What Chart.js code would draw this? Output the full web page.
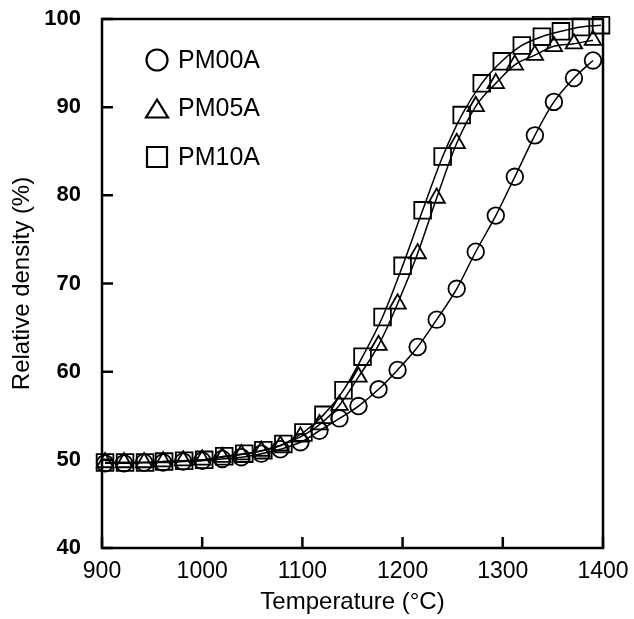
<!DOCTYPE html>
<html>
<head>
<meta charset="utf-8">
<script src="https://cdn.jsdelivr.net/npm/chart.js@4"></script>
<style>
  html, body { margin: 0; padding: 0; background: #fff; }
  #wrap { width: 634px; height: 619px; position: relative; }
</style>
</head>
<body>
<div id="wrap"><canvas id="myChart" width="634" height="619"></canvas></div>
<script>
// Temperatures (°C) of the measured points
let tempA = [903, 922, 942, 961, 981, 1000, 1020, 1039, 1059, 1078, 1098, 1117, 1137,
             1156, 1176, 1195, 1215, 1234, 1254, 1273, 1293, 1312, 1332, 1351, 1371, 1390];
let tempB = [903, 923, 943, 962, 982, 1002, 1022, 1042, 1061, 1081, 1101, 1121, 1141,
             1160, 1180, 1200, 1220, 1240, 1259, 1279, 1299, 1319, 1339, 1358, 1378, 1398];

// Relative density (%)
let pm00a = [49.6, 49.6, 49.7, 49.7, 49.8, 49.9, 50.1, 50.3, 50.7, 51.2, 52.0, 53.3, 54.7,
             56.1, 58.0, 60.2, 62.8, 65.9, 69.4, 73.6, 77.7, 82.1, 86.8, 90.6, 93.3, 95.3];
let pm05a = [49.7, 49.7, 49.7, 49.8, 49.9, 50.0, 50.3, 50.6, 51.0, 51.6, 52.6, 54.0, 56.2,
             59.4, 63.0, 67.7, 73.4, 79.7, 85.9, 90.1, 92.7, 94.8, 95.9, 96.9, 97.2, 97.6];
let pm10a = [49.7, 49.7, 49.7, 49.8, 49.9, 50.0, 50.4, 50.7, 51.1, 51.8, 53.1, 55.1, 57.9,
             61.7, 66.2, 72.0, 78.3, 84.4, 89.1, 92.7, 95.2, 97.0, 98.0, 98.6, 99.1, 99.3];

let xTicks = [900, 1000, 1100, 1200, 1300, 1400];
let yTicks = [40, 50, 60, 70, 80, 90, 100];

const FONT = "'Liberation Sans', Arial, sans-serif";

function pts(xs, ys) {
    return xs.map((x, i) => ({ x: x, y: ys[i] }));
}

function series(label, xs, ys, style, radius) {
    return {
        label: label,
        data: pts(xs, ys),
        showLine: true,
        borderColor: '#000',
        borderWidth: 1.5,
        cubicInterpolationMode: 'monotone',
        pointStyle: style,
        pointRadius: radius,
        pointBorderWidth: 1.8,
        pointBorderColor: '#000',
        pointBackgroundColor: 'rgba(0,0,0,0)',
        clip: false
    };
}

// Frame with inward ticks, drawn under the markers
const framePlugin = {
    id: 'frame',
    beforeDatasetsDraw(chart) {
        const { ctx, chartArea: a, scales } = chart;
        ctx.save();
        ctx.strokeStyle = '#000';
        ctx.lineWidth = 2.5;
        ctx.strokeRect(a.left, a.top, a.right - a.left, a.bottom - a.top);
        ctx.beginPath();
        for (let v of yTicks) {
            let y = scales.y.getPixelForValue(v);
            ctx.moveTo(a.left, y);
            ctx.lineTo(a.left + 11, y);
        }
        for (let v of xTicks) {
            let x = scales.x.getPixelForValue(v);
            ctx.moveTo(x, a.bottom);
            ctx.lineTo(x, a.bottom - 11);
        }
        ctx.stroke();
        ctx.restore();
    }
};

// Legend inside the plot, top left
const legendPlugin = {
    id: 'innerLegend',
    afterDatasetsDraw(chart) {
        const { ctx, chartArea: a } = chart;
        const x = a.left + 55;
        ctx.save();
        ctx.strokeStyle = '#000';
        ctx.fillStyle = '#000';
        ctx.lineWidth = 2.2;
        ctx.font = '25px ' + FONT;
        ctx.textBaseline = 'middle';
        chart.data.datasets.forEach((ds, i) => {
            const y = a.top + 41 + i * 48.5;
            ctx.beginPath();
            if (ds.pointStyle === 'circle') {
                ctx.arc(x, y, 10.5, 0, Math.PI * 2);
            } else if (ds.pointStyle === 'triangle') {
                ctx.moveTo(x, y - 9);
                ctx.lineTo(x + 11, y + 9);
                ctx.lineTo(x - 11, y + 9);
                ctx.closePath();
            } else {
                ctx.rect(x - 10, y - 10, 20, 20);
            }
            ctx.stroke();
            ctx.fillText(ds.label, x + 21, y + 1);
        });
        ctx.restore();
    }
};

new Chart(document.getElementById('myChart'), {
    type: 'scatter',
    data: {
        datasets: [
            series('PM00A', tempA, pm00a, 'circle', 8.3),
            series('PM05A', tempA, pm05a, 'triangle', 9.5),
            series('PM10A', tempB, pm10a, 'rect', 11.8)
        ]
    },
    options: {
        responsive: false,
        animation: false,
        layout: { padding: { left: 0, right: 31, top: 19, bottom: 0 } },
        plugins: {
            legend: { display: false },
            tooltip: { enabled: false }
        },
        scales: {
            x: {
                type: 'linear',
                min: 900,
                max: 1400,
                afterBuildTicks: s => { s.ticks = xTicks.map(v => ({ value: v })); },
                afterFit: s => { s.height = 71; s.paddingLeft = 0; s.paddingRight = 0; },
                grid: { display: false, drawTicks: false },
                border: { display: false },
                ticks: {
                    color: '#000',
                    padding: 10,
                    maxRotation: 0,
                    font: { family: FONT, size: 23 },
                    callback: v => String(v)
                },
                title: {
                    display: true,
                    text: 'Temperature (°C)',
                    color: '#000',
                    padding: { top: 0, bottom: 2 },
                    font: { family: FONT, size: 24 }
                }
            },
            y: {
                min: 40,
                max: 100,
                afterBuildTicks: s => { s.ticks = yTicks.map(v => ({ value: v })); },
                afterFit: s => { s.width = 102; s.paddingTop = 0; s.paddingBottom = 0; },
                grid: { display: false, drawTicks: false },
                border: { display: false },
                ticks: {
                    color: '#000',
                    padding: 21,
                    font: { family: FONT, size: 22, weight: 'bold' },
                    callback: v => String(v)
                },
                title: {
                    display: true,
                    text: 'Relative density (%)',
                    color: '#000',
                    padding: { top: 8, bottom: 0 },
                    font: { family: FONT, size: 24 }
                }
            }
        }
    },
    plugins: [framePlugin, legendPlugin]
});
</script>
</body>
</html>
